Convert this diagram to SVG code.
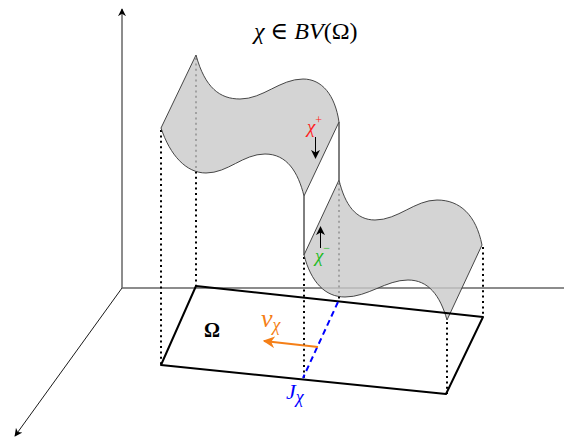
<svg xmlns="http://www.w3.org/2000/svg" width="564" height="439" viewBox="0 0 564 439">
<style>
.sheet{fill:#c9c9c9;fill-opacity:0.8;stroke:#333;stroke-width:0.9;stroke-linejoin:round}
.dot{stroke:#000;stroke-width:2;stroke-dasharray:2 3.4;fill:none}
.ax{stroke:#000;stroke-width:0.9;fill:none}
.jump{stroke:#000;stroke-width:1;fill:none}
.serif{font-family:"Liberation Serif","DejaVu Serif",serif}
.it{font-style:italic}
</style>
<defs>
<marker id="ah" viewBox="0 0 10 10" refX="9" refY="5" markerWidth="8" markerHeight="8" markerUnits="userSpaceOnUse" orient="auto">
<path d="M0,0 L10,5 L0,10 L3,5 z" fill="#000"/>
</marker>
<marker id="ahs" viewBox="0 0 10 10" refX="9" refY="5" markerWidth="9" markerHeight="9" markerUnits="userSpaceOnUse" orient="auto">
<path d="M0,0 L10,5 L0,10 L3,5 z" fill="#000"/>
</marker>
<marker id="aho" viewBox="0 0 10 10" refX="9" refY="5" markerWidth="12" markerHeight="12" markerUnits="userSpaceOnUse" orient="auto">
<path d="M0,0 L10,5 L0,10 L3,5 z" fill="#f57f17"/>
</marker>
</defs>

<g id="axes">
<line class="ax" x1="122" y1="288" x2="122" y2="9" marker-end="url(#ah)"/>
<line class="ax" x1="122" y1="288" x2="15" y2="436" marker-end="url(#ah)"/>
<line x1="122" y1="288" x2="572" y2="288" stroke="#666" stroke-width="1.3"/>
</g>

<g id="connectors">
<line class="dot" x1="161" y1="130" x2="161" y2="365"/>
<line class="dot" x1="196" y1="58" x2="196" y2="286"/>
<line class="dot" x1="304" y1="257" x2="304" y2="380"/>
<line class="dot" x1="339" y1="183" x2="339" y2="302"/>
<line class="dot" x1="483" y1="247" x2="483" y2="317"/>
<line class="dot" x1="447" y1="322" x2="447" y2="394"/>
<line class="jump" x1="339" y1="122" x2="339" y2="180"/>
<line class="jump" x1="304" y1="196" x2="304" y2="255"/>
</g>

<g id="sheet-upper">
<path class="sheet" d="M161,128 L196,55 C205,88 220,99 240,99 C263,99 280,79 303,79 C322,79 335,95 339,122 L304,196 C298,172 287,154 265,154 C243,154 228,173 206,173 C186,173 170,155 161,128 Z"/>
</g>

<g id="sheet-lower">
<path class="sheet" d="M304,255 L339,180 C345,205 356,220 375,220 C398,220 415,200 437,200 C460,200 476,215 482,245 L447,320 C440,295 428,280 408,280 C386,280 368,297 345,297 C325,297 311,282 304,255 Z"/>
</g>

<g id="domain">
<path d="M196,286 L483,317 L446,394 L161,365 Z" fill="none" stroke="#000" stroke-width="2" stroke-linejoin="round"/>
<line x1="338" y1="302" x2="303" y2="378" stroke="#0000ff" stroke-width="2" stroke-dasharray="6 4"/>
</g>

<g id="normal-arrow">
<line x1="318" y1="347" x2="264" y2="341" stroke="#f57f17" stroke-width="2.2" marker-end="url(#aho)"/>
</g>

<g id="jump-arrows">
<line x1="315.5" y1="137" x2="315.5" y2="158" stroke="#000" stroke-width="1" marker-end="url(#ahs)"/>
<line x1="320.5" y1="248" x2="320.5" y2="227" stroke="#000" stroke-width="1" marker-end="url(#ahs)"/>
</g>

<g id="labels" class="serif">
<text x="254" y="39" font-size="24" fill="#000"><tspan class="it">χ</tspan> ∈ <tspan class="it">BV</tspan>(Ω)</text>
<text x="307" y="133" font-size="19" fill="#ff2020"><tspan class="it">χ</tspan><tspan font-size="12" dy="-9">+</tspan></text>
<text x="315" y="262" font-size="19" fill="#22bb22"><tspan class="it">χ</tspan><tspan font-size="12" dy="-10">−</tspan></text>
<text x="204" y="337" font-size="20" font-weight="bold" fill="#000">Ω</text>
<text x="261" y="327" font-size="26" fill="#f57f17"><tspan class="it">ν</tspan><tspan class="it" font-size="18" dy="4">χ</tspan></text>
<text x="286" y="399" font-size="22" fill="#0000ff"><tspan class="it">J</tspan><tspan class="it" font-size="18" dy="4">χ</tspan></text>
</g>
</svg>
